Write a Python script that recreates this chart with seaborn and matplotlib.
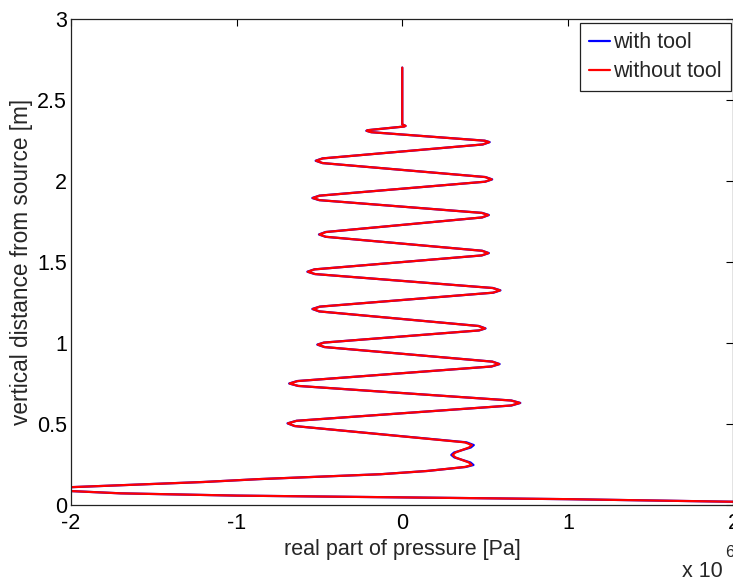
import matplotlib
matplotlib.use("Agg")
import matplotlib.pyplot as plt
import numpy as np
import pandas as pd
import seaborn as sns

# Depth above the source [m] and real part of the pressure [x 10^6 Pa],
# traced from the source upward along the borehole.
depth = [0.005, 0.020, 0.036, 0.047, 0.058, 0.072, 0.086, 0.098, 0.110,
         0.142, 0.160, 0.190, 0.210, 0.235, 0.247, 0.2625, 0.2935, 0.309,
         0.324, 0.355, 0.370, 0.3868, 0.4873, 0.504, 0.5198, 0.6143, 0.630,
         0.645, 0.735, 0.750, 0.765, 0.855, 0.870, 0.885, 0.975, 0.990,
         1.0025, 1.0775, 1.090, 1.105, 1.195, 1.210, 1.2244, 1.3106, 1.325,
         1.3394, 1.4256, 1.440, 1.4544, 1.5406, 1.555, 1.5694, 1.6556, 1.670,
         1.685, 1.775, 1.790, 1.8031, 1.8819, 1.895, 1.9094, 1.9956, 2.010,
         2.0244, 2.1106, 2.125, 2.1394, 2.2256, 2.240, 2.2488, 2.3013, 2.310,
         2.3138, 2.3363, 2.340, 2.350, 2.700]

pressure_without_tool = [
    2.30, 2.00, 1.00, 0.00, -1.00, -1.70, -2.00, -2.06, -2.00,
    -1.20, -0.86, -0.13, 0.15, 0.38, 0.419, 0.402, 0.321, 0.304,
    0.321, 0.403, 0.420, 0.378, -0.648, -0.690, -0.637, 0.657, 0.710,
    0.657, -0.627, -0.680, -0.632, 0.537, 0.585, 0.543, -0.468, -0.510,
    -0.472, 0.462, 0.500, 0.460, -0.500, -0.540, -0.497, 0.547, 0.590,
    0.546, -0.526, -0.570, -0.529, 0.479, 0.520, 0.481, -0.461, -0.500,
    -0.461, 0.481, 0.520, 0.480, -0.500, -0.540, -0.499, 0.499, 0.540,
    0.500, -0.480, -0.520, -0.480, 0.485, 0.525, 0.497, -0.187, -0.215,
    -0.206, 0.011, 0.020, 0.000, 0.000]

pressure_with_tool = [
    2.30, 2.00, 1.00, 0.00, -1.00, -1.70, -2.00, -2.06, -2.00,
    -1.20, -0.86, -0.13, 0.15, 0.385, 0.430, 0.412, 0.315, 0.296,
    0.313, 0.414, 0.432, 0.388, -0.650, -0.693, -0.639, 0.660, 0.713,
    0.659, -0.629, -0.683, -0.634, 0.540, 0.588, 0.545, -0.470, -0.513,
    -0.474, 0.464, 0.503, 0.462, -0.502, -0.543, -0.499, 0.550, 0.593,
    0.548, -0.528, -0.573, -0.531, 0.481, 0.523, 0.483, -0.463, -0.503,
    -0.463, 0.483, 0.523, 0.482, -0.502, -0.543, -0.501, 0.501, 0.543,
    0.502, -0.482, -0.523, -0.482, 0.487, 0.528, 0.499, -0.188, -0.217,
    -0.207, 0.011, 0.020, 0.000, 0.000]

series_names = ["with tool", "without tool"]
series_colors = ["#0000ff", "#ff0000"]

x_ticks = [-2, -1, 0, 1, 2]
x_tick_labels = ["-2", "-1", "0", "1", "2"]
y_ticks = [0, 0.5, 1, 1.5, 2, 2.5, 3]
y_tick_labels = ["0", "0.5", "1", "1.5", "2", "2.5", "3"]

df = pd.DataFrame({
    "depth": depth + depth,
    "pressure": pressure_with_tool + pressure_without_tool,
    "case": [series_names[0]] * len(depth) + [series_names[1]] * len(depth),
})

sns.set_style("white")
plt.rcParams["font.family"] = ["Liberation Sans", "DejaVu Sans"]
plt.rcParams["axes.unicode_minus"] = False

W, H = 733, 577
fig = plt.figure(figsize=(W / 100, H / 100), dpi=100)
left, right, top, bottom = 71, 733.5, 19, 505
ax = fig.add_axes([left / W, 1 - bottom / H, (right - left) / W, (bottom - top) / H])

sns.lineplot(data=df, x="pressure", y="depth", hue="case",
             hue_order=series_names,
             palette=dict(zip(series_names, series_colors)),
             sort=False, estimator=None, linewidth=1.6, ax=ax)
for line in ax.get_lines():
    line.set_solid_joinstyle("round")
    line.set_solid_capstyle("round")

ax.set_xlim(-2, 2)
ax.set_ylim(0, 3)
ax.set_xticks(x_ticks, x_tick_labels)
ax.set_yticks(y_ticks, y_tick_labels)

fs = 15.5
ax.tick_params(axis="both", direction="in", length=5, width=0.8,
               colors="black", labelsize=fs, top=True, right=True)
ax.tick_params(axis="x", pad=6)
ax.tick_params(axis="y", pad=3)
for s in ax.spines.values():
    s.set_visible(True)
    s.set_color("#222222")
    s.set_linewidth(0.9)

ax.set_xlabel("real part of pressure [Pa]", fontsize=fs, labelpad=3)
ax.set_ylabel("vertical distance from source [m]", fontsize=16.3, labelpad=3)

# MATLAB-style exponent label under the right end of the x axis
fig.text(682 / W, (H - 577) / H, "x 10", fontsize=fs, ha="left", va="baseline")
fig.text(725 / W, (H - 557) / H, "6", fontsize=12, ha="left", va="baseline")

handles, labels = ax.get_legend_handles_labels()
leg = ax.legend(handles, labels, loc="upper right",
                bbox_to_anchor=(731 / W, 1 - 23 / H), bbox_transform=fig.transFigure,
                borderaxespad=0, fontsize=fs, frameon=True, fancybox=False,
                edgecolor="#222222", framealpha=1, borderpad=0.42,
                handlelength=1.0, handletextpad=0.15, labelspacing=0.38)
leg.get_frame().set_linewidth(0.9)
for lh in leg.get_lines():
    lh.set_linewidth(1.6)

fig.savefig("out.png", dpi=100)
